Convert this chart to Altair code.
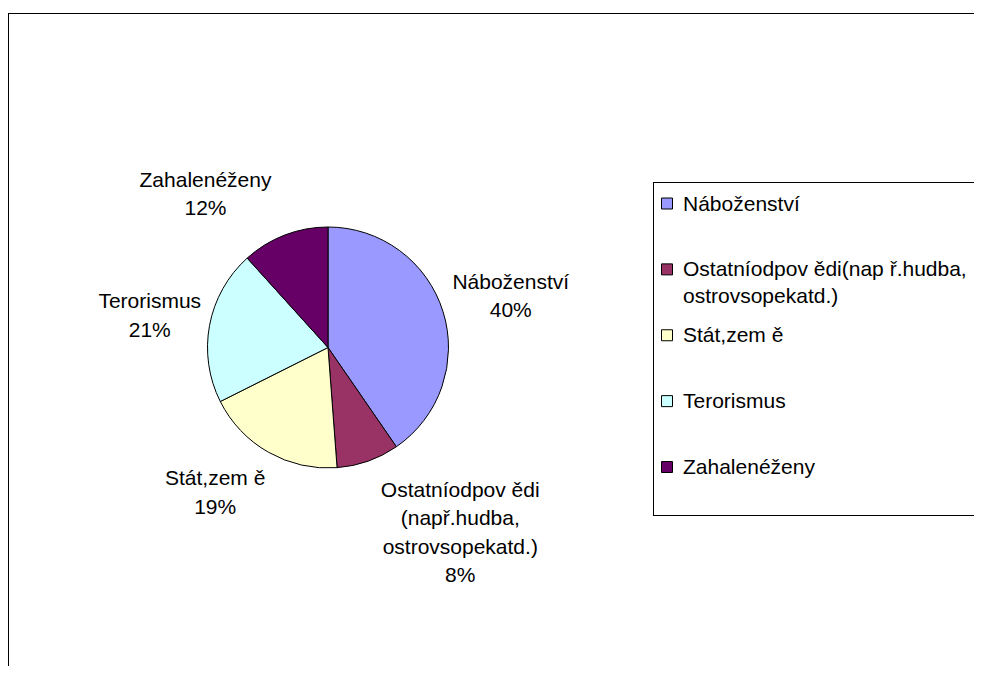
import altair as alt
import pandas as pd

# ---- data ----
categories = ["Náboženství", "Ostatníodpov ědi", "Stát,zem ě", "Terorismus", "Zahalenéženy"]
values = [40.4, 8.4, 18.8, 20.7, 11.7]
pie_labels = [
    "Náboženství",
    "Ostatníodpov ědi\n(např.hudba,\nostrovsopekatd.)",
    "Stát,zem ě",
    "Terorismus",
    "Zahalenéženy",
]
legend_labels = [
    "Náboženství",
    "Ostatníodpov ědi(nap ř.hudba,\nostrovsopekatd.)",
    "Stát,zem ě",
    "Terorismus",
    "Zahalenéženy",
]
colors = ["#9999FF", "#993366", "#FFFFCC", "#CCFFFF", "#660066"]

df = pd.DataFrame({
    "category": categories,
    "value": values,
    "order": list(range(len(categories))),
    "pie_label": [f"{l}\n{round(v)}%" for l, v in zip(pie_labels, values)],
    "legend_label": legend_labels,
})
df["mid"] = df["value"].cumsum() - df["value"] / 2

# ---- layout ----
W, H = 966, 658
CX, CY, R = 320, 339.5, 120.5
LABEL_R = 160
LH = 28.5
LABEL_NUDGE = [(30, -3), (79, 35), (-34, 7), (-21, -1.5), (-65, -3)]
FONT = "Liberation Sans"
FS = 21

color = alt.Color("category:N", scale=alt.Scale(domain=categories, range=colors), legend=None)

pie = alt.Chart(df).mark_arc(outerRadius=R, stroke="black", strokeWidth=1).encode(
    theta=alt.Theta("value:Q", stack=True, scale=alt.Scale(domain=[0, 100])),
    order=alt.Order("order:Q"),
    color=color,
    x=alt.value(CX),
    y=alt.value(CY),
)

label_layers = []
for cat, lab, (ndx, ndy) in zip(categories, df["pie_label"], LABEL_NUDGE):
    n_lines = lab.count("\n") + 1
    label_layers.append(
        alt.Chart(df).transform_filter(alt.datum.category == cat).mark_text(
            align="center", baseline="middle", lineBreak="\n", lineHeight=LH,
            font=FONT, fontSize=FS, color="black",
            dx=ndx, dy=ndy - (n_lines - 1) * LH / 2,
        ).encode(
            theta=alt.Theta("mid:Q", scale=alt.Scale(domain=[0, 100], range=[0, 6.283185307179586])),
            radius=alt.value(LABEL_R),
            text="pie_label:N",
            x=alt.value(CX),
            y=alt.value(CY),
        )
    )

# outer frame (top and left visible)
frame_top = alt.Chart(df).mark_rule(color="black", strokeWidth=1).encode(
    x=alt.value(0), x2=alt.value(W), y=alt.value(5.5)
)
frame_left = alt.Chart(df).mark_rule(color="black", strokeWidth=1).encode(
    x=alt.value(0.5), y=alt.value(5), y2=alt.value(H)
)

# legend box
legend_box = alt.Chart(df).mark_rect(fill=None, stroke="black", strokeWidth=1).encode(
    x=alt.value(645.5), x2=alt.value(W + 20), y=alt.value(174.5), y2=alt.value(507.5)
)

ypos = alt.Y("category:N", scale=alt.Scale(type="point", domain=categories, range=[195.5, 459], padding=0), axis=None)

legend_sq = alt.Chart(df).mark_square(size=121, stroke="black", strokeWidth=1, opacity=1).encode(
    x=alt.value(659), y=ypos, color=color
)
legend_txt = alt.Chart(df).mark_text(
    align="left", baseline="alphabetic", lineBreak="\n", lineHeight=27,
    font=FONT, fontSize=FS, color="black", dy=7,
).encode(x=alt.value(675), y=ypos, text="legend_label:N")

chart = alt.layer(
    frame_top, frame_left, legend_box, pie, *label_layers, legend_sq, legend_txt
).resolve_scale(theta="independent").properties(
    width=W, height=H, autosize="none", padding=0
).configure_view(stroke=None)

chart.save("out.html", embed_options={"renderer": "svg", "actions": False})
